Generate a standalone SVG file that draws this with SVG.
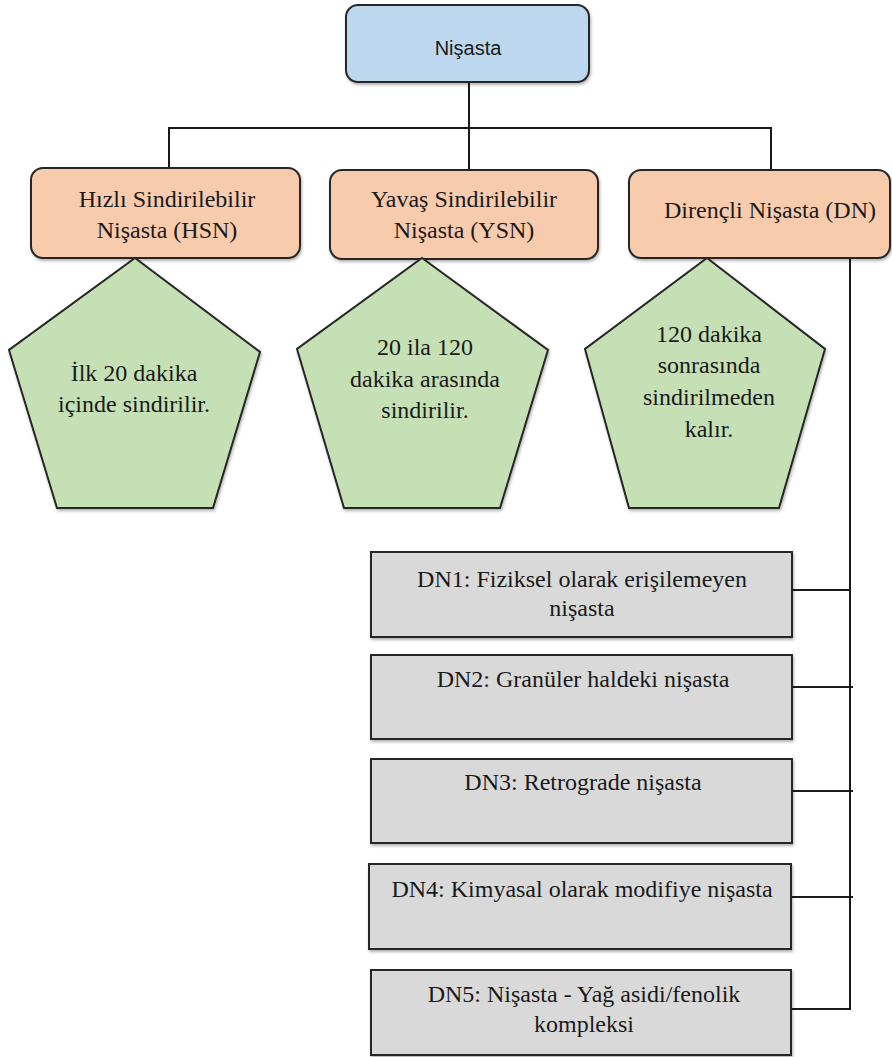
<svg xmlns="http://www.w3.org/2000/svg" width="892" height="1057" viewBox="0 0 892 1057">
<defs>
<filter id="sh" x="-10%" y="-10%" width="120%" height="130%">
<feDropShadow dx="1" dy="2" stdDeviation="1.5" flood-color="#000" flood-opacity="0.3"/>
</filter>
</defs>
<style>
.node{stroke:#262626;stroke-width:2;filter:url(#sh)}
.blue{fill:#bdd7ee}
.orange{fill:#f8cbad}
.green{fill:#c5e0b4}
.grey{fill:#d9d9d9}
.t{font-family:'Liberation Serif','Tinos','DejaVu Serif',serif;font-size:24px;fill:#1a1a1a;text-anchor:middle}
.s{font-family:'Liberation Sans','Arimo',sans-serif;font-size:20px;fill:#1a1a1a;text-anchor:middle}
.c{fill:none;stroke:#1a1a1a;stroke-width:2}
</style>
<rect width="892" height="1057" fill="#ffffff"/>
<g id="connectors">
<polyline class="c" points="469,82 469,170"/>
<polyline class="c" points="169,168 169,128 771,128 771,170"/>
<polyline class="c" points="850,258 850,1009 791,1009"/>
<line class="c" x1="792" y1="590" x2="850" y2="590"/>
<line class="c" x1="792" y1="687" x2="853" y2="687"/>
<line class="c" x1="792" y1="791" x2="853" y2="791"/>
<line class="c" x1="791" y1="897" x2="853" y2="897"/>
</g>
<g id="nisasta">
<rect class="node blue" x="346" y="5" width="243" height="77" rx="12"/>
<text class="s" x="468" y="55">Nişasta</text>
</g>
<g id="hsn">
<rect class="node orange" x="31" y="168" width="269" height="90" rx="12"/>
<text class="t" x="167" y="207">Hızlı Sindirilebilir</text>
<text class="t" x="167" y="238">Nişasta (HSN)</text>
</g>
<g id="ysn">
<rect class="node orange" x="330" y="170" width="268" height="89" rx="12"/>
<text class="t" x="464" y="207">Yavaş Sindirilebilir</text>
<text class="t" x="464" y="238">Nişasta (YSN)</text>
</g>
<g id="dn">
<rect class="node orange" x="629" y="170" width="261" height="88" rx="12"/>
<text class="t" x="770" y="218">Dirençli Nişasta (DN)</text>
</g>
<g id="hsn-desc">
<polygon class="node green" points="135,258 260,352 213,508 57,508 9,350"/>
<text class="t" x="134" y="381">İlk 20 dakika</text>
<text class="t" x="134" y="412">içinde sindirilir.</text>
</g>
<g id="ysn-desc">
<polygon class="node green" points="422,258 548,350 500,508 344,508 297,349"/>
<text class="t" x="425" y="355">20 ila 120</text>
<text class="t" x="425" y="387">dakika arasında</text>
<text class="t" x="425" y="418">sindirilir.</text>
</g>
<g id="dn-desc">
<polygon class="node green" points="707,258 825,349 779,508 629,508 585,349"/>
<text class="t" x="709" y="342">120 dakika</text>
<text class="t" x="709" y="373">sonrasında</text>
<text class="t" x="709" y="405">sindirilmeden</text>
<text class="t" x="709" y="437">kalır.</text>
</g>
<g id="dn1">
<rect class="node grey" x="371" y="552" width="421" height="85"/>
<text class="t" x="582" y="587">DN1: Fiziksel olarak erişilemeyen</text>
<text class="t" x="582" y="616">nişasta</text>
</g>
<g id="dn2">
<rect class="node grey" x="371" y="655" width="421" height="84"/>
<text class="t" x="583" y="687">DN2: Granüler haldeki nişasta</text>
</g>
<g id="dn3">
<rect class="node grey" x="371" y="759" width="421" height="84"/>
<text class="t" x="583" y="790">DN3: Retrograde nişasta</text>
</g>
<g id="dn4">
<rect class="node grey" x="369" y="864" width="422" height="85"/>
<text class="t" x="582" y="897">DN4: Kimyasal olarak modifiye nişasta</text>
</g>
<g id="dn5">
<rect class="node grey" x="371" y="970" width="420" height="85"/>
<text class="t" x="584" y="1002">DN5: Nişasta - Yağ asidi/fenolik</text>
<text class="t" x="584" y="1032">kompleksi</text>
</g>
</svg>
